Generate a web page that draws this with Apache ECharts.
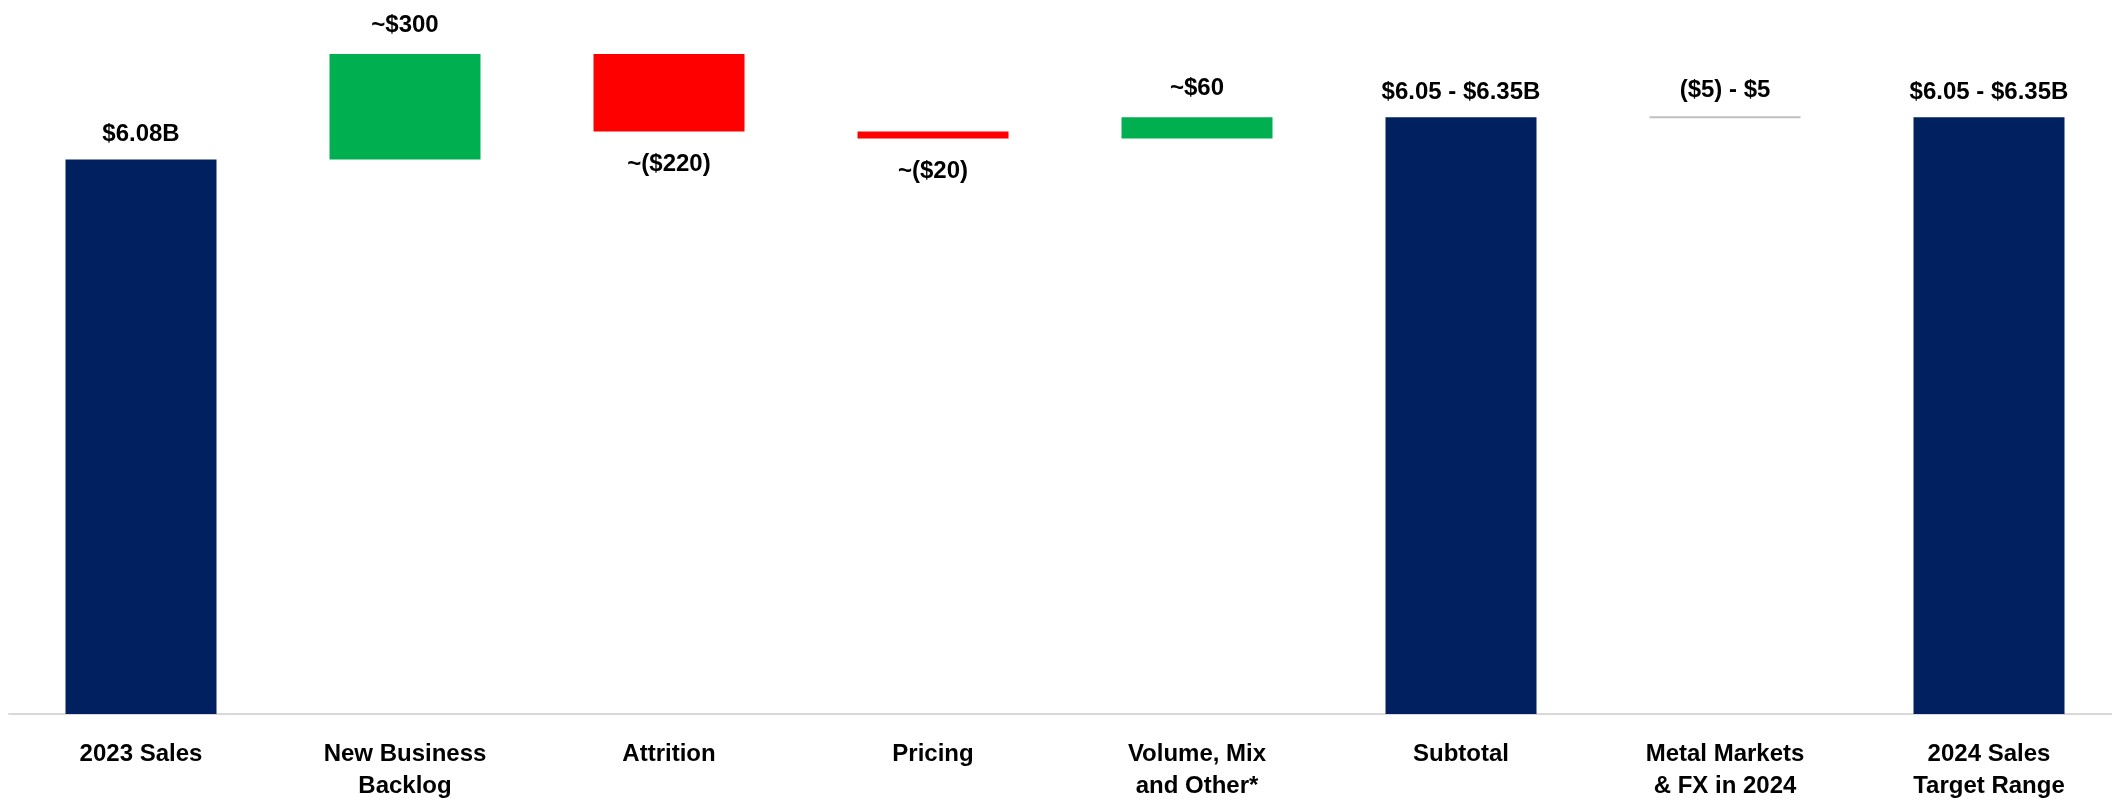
<!DOCTYPE html>
<html>
<head>
<meta charset="utf-8">
<title>2024 Sales Walk</title>
<script src="https://cdn.jsdelivr.net/npm/echarts@6/dist/echarts.min.js"></script>
<style>
  html, body { margin: 0; padding: 0; background: #fff; }
  #walk { width: 2112px; height: 802px; }
</style>
</head>
<body>
<div id="walk"></div>
<script>
  // sales walk, values in $M
  var categories = ['2023 Sales', 'New Business\nBacklog', 'Attrition', 'Pricing',
                    'Volume, Mix\nand Other*', 'Subtotal', 'Metal Markets\n& FX in 2024', '2024 Sales\nTarget Range'];
  var totalValues    = [6080, '-', '-', '-', '-', 6200, '-', 6200];
  var increaseValues = ['-', 300, '-', '-', 60, '-', '-', '-'];
  var decreaseValues = ['-', '-', 220, 20, '-', '-', '-', '-'];
  var metalLevel     = ['-', '-', '-', '-', '-', '-', 6200, '-'];   // ($5) - $5, about flat
  var valueLabels = ['$6.08B', '~$300', '~($220)', '~($20)', '~$60', '$6.05 - $6.35B', '($5) - $5', '$6.05 - $6.35B'];

  // invisible base under the moving bars
  var baseValues = [];
  var running = 0;
  for (var i = 0; i < categories.length; i++) {
    if (totalValues[i] !== '-') {
      running = totalValues[i];
      baseValues.push('-');
    } else if (increaseValues[i] !== '-') {
      baseValues.push(running);
      running += increaseValues[i];
    } else if (decreaseValues[i] !== '-') {
      running -= decreaseValues[i];
      baseValues.push(running);
    } else {
      baseValues.push('-');
    }
  }

  var FONT = '"Liberation Sans", Arial, sans-serif';
  var labelStyle = {
    show: true,
    fontFamily: FONT,
    fontSize: 24,
    fontWeight: 'bold',
    color: '#000',
    formatter: function (p) { return valueLabels[p.dataIndex]; }
  };

  var chart = echarts.init(document.getElementById('walk'));
  chart.setOption({
    animation: false,
    // grid runs a little past the right edge, as in the slide
    grid: { left: 9, width: 2112, top: 10, bottom: 88, outerBoundsMode: 'none' },
    xAxis: {
      type: 'category',
      data: categories,
      axisTick: { show: false },
      axisLine: { lineStyle: { color: '#d9d9d9', width: 2 } },
      axisLabel: {
        interval: 0,
        margin: 24,
        fontFamily: FONT,
        fontSize: 24,
        fontWeight: 'bold',
        lineHeight: 32,
        color: '#000'
      }
    },
    yAxis: {
      type: 'value',
      min: 4505,          // axis is cut, bars start well above zero
      max: 6505,
      show: false,
      splitLine: { show: false }
    },
    series: [
      {
        name: 'base',
        type: 'bar',
        stack: 'walk',
        barWidth: 151,
        itemStyle: { color: 'transparent' },
        data: baseValues
      },
      {
        name: 'total',
        type: 'bar',
        stack: 'walk',
        barWidth: 151,
        itemStyle: { color: '#002060' },
        label: Object.assign({}, labelStyle, { position: 'top', distance: 13 }),
        data: totalValues
      },
      {
        name: 'increase',
        type: 'bar',
        stack: 'walk',
        barWidth: 151,
        itemStyle: { color: '#00b050' },
        label: Object.assign({}, labelStyle, { position: 'top', distance: 17 }),
        data: increaseValues
      },
      {
        name: 'decrease',
        type: 'bar',
        stack: 'walk',
        barWidth: 151,
        itemStyle: { color: '#ff0000' },
        label: Object.assign({}, labelStyle, { position: 'bottom', distance: 21 }),
        data: decreaseValues
      },
      {
        name: 'metal',
        type: 'scatter',
        symbol: 'rect',
        symbolSize: [151, 2],
        itemStyle: { color: '#bfbfbf', opacity: 1 },
        label: Object.assign({}, labelStyle, { position: 'top', distance: 14 }),
        data: metalLevel
      }
    ]
  });
</script>
</body>
</html>
